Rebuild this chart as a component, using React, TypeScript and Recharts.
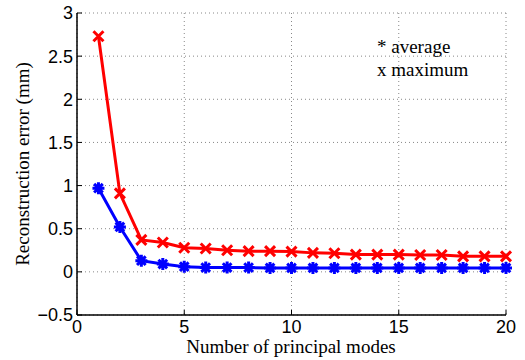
import { LineChart, Line, XAxis, YAxis, CartesianGrid } from "recharts";

const MODES = [1, 2, 3, 4, 5, 6, 7, 8, 9, 10, 11, 12, 13, 14, 15, 16, 17, 18, 19, 20];
const AVERAGE_ERROR = [0.97, 0.52, 0.13, 0.09, 0.06, 0.05, 0.05, 0.05, 0.045, 0.045, 0.045, 0.045, 0.045, 0.045, 0.045, 0.045, 0.045, 0.045, 0.045, 0.045];
const MAXIMUM_ERROR = [2.73, 0.91, 0.37, 0.34, 0.28, 0.27, 0.25, 0.24, 0.24, 0.235, 0.22, 0.215, 0.2, 0.2, 0.2, 0.195, 0.195, 0.18, 0.18, 0.18];
const X_TICKS = [0, 5, 10, 15, 20];
const Y_TICKS = [-0.5, 0, 0.5, 1, 1.5, 2, 2.5, 3];

const data = MODES.map((m, i) => ({ mode: m, avg: AVERAGE_ERROR[i], max: MAXIMUM_ERROR[i] }));

const SANS = "Liberation Sans";
const SERIF = "Liberation Serif";

const serifStyle = { fontFamily: SERIF, fontSize: 19 };

const fmt = (v: number) => (v < 0 ? `\u2212${Math.abs(v)}` : `${v}`);

function BottomTick({ x, y, payload }: any) {
  return (
    <g>
      <line x1={x} x2={x} y1={y} y2={y - 5} stroke="#000" strokeWidth={1} />
      <text x={x} y={y + 18} textAnchor="middle" style={{ fontFamily: SANS, fontSize: 18 }} fill="#000">
        {fmt(payload.value)}
      </text>
    </g>
  );
}

function LeftTick({ x, y, payload }: any) {
  return (
    <g>
      <line x1={x} x2={x + 5} y1={y} y2={y} stroke="#000" strokeWidth={1} />
      <text x={x - 4} y={y} dy="0.36em" textAnchor="end" style={{ fontFamily: SANS, fontSize: 18 }} fill="#000">
        {fmt(payload.value)}
      </text>
    </g>
  );
}

const TopTick = ({ x, y }: any) => <line x1={x} x2={x} y1={y} y2={y + 5} stroke="#000" strokeWidth={1} />;
const RightTick = ({ x, y }: any) => <line x1={x} x2={x - 5} y1={y} y2={y} stroke="#000" strokeWidth={1} />;

function Cross({ cx, cy, index }: any) {
  const s = 5;
  return (
    <path
      key={index}
      d={`M${cx - s},${cy - s}L${cx + s},${cy + s}M${cx - s},${cy + s}L${cx + s},${cy - s}`}
      stroke="#ff0000"
      strokeWidth={3}
    />
  );
}

function Star({ cx, cy, index }: any) {
  const s = 6;
  const d = s * 0.72;
  return (
    <path
      key={index}
      d={`M${cx - s},${cy}L${cx + s},${cy}M${cx},${cy - s}L${cx},${cy + s}M${cx - d},${cy - d}L${cx + d},${cy + d}M${cx - d},${cy + d}L${cx + d},${cy - d}`}
      stroke="#0000ff"
      strokeWidth={3}
    />
  );
}

export default function App() {
  return (
    <div style={{ position: "absolute", left: 0, top: 0, width: 525, height: 360, background: "#fff" }}>
      <LineChart width={525} height={360} data={data} margin={{ top: 13, right: 19, left: 0, bottom: 0 }}>
        <CartesianGrid stroke="#888" strokeDasharray="1 3" strokeWidth={1} />
        <XAxis
          dataKey="mode"
          type="number"
          domain={[0, 20]}
          ticks={X_TICKS}
          height={45}
          tickSize={0}
          tickMargin={0}
          tickLine={false}
          axisLine={{ stroke: "#000", strokeWidth: 1.5 }}
          tick={<BottomTick />}
          interval={0}
        />
        <XAxis
          xAxisId="top"
          orientation="top"
          dataKey="mode"
          type="number"
          domain={[0, 20]}
          ticks={X_TICKS}
          height={0}
          tickSize={0}
          tickMargin={0}
          tickLine={false}
          axisLine={{ stroke: "#000", strokeWidth: 1.5 }}
          tick={<TopTick />}
          interval={0}
        />
        <YAxis
          type="number"
          domain={[-0.5, 3]}
          ticks={Y_TICKS}
          width={77}
          tickSize={0}
          tickMargin={0}
          tickLine={false}
          axisLine={{ stroke: "#000", strokeWidth: 1.5 }}
          tick={<LeftTick />}
          interval={0}
        />
        <YAxis
          yAxisId="right"
          orientation="right"
          type="number"
          domain={[-0.5, 3]}
          ticks={Y_TICKS}
          width={0}
          tickSize={0}
          tickMargin={0}
          tickLine={false}
          axisLine={{ stroke: "#000", strokeWidth: 1.5 }}
          tick={<RightTick />}
          interval={0}
        />
        <Line dataKey="max" stroke="#ff0000" strokeWidth={3} dot={Cross} isAnimationActive={false} />
        <Line dataKey="avg" stroke="#0000ff" strokeWidth={3} dot={Star} isAnimationActive={false} />
      </LineChart>
      <svg width={525} height={360} style={{ position: "absolute", left: 0, top: 0, pointerEvents: "none" }}>
        <text x={291} y={353} textAnchor="middle" style={serifStyle} fill="#000">
          Number of principal modes
        </text>
        <text x={29} y={164} textAnchor="middle" transform="rotate(-90 29 164)" style={serifStyle} fill="#000">
          Reconstruction error (mm)
        </text>
        <text x={377} y={53} style={serifStyle} fill="#000">
          * average
        </text>
        <text x={377} y={76} style={serifStyle} fill="#000">
          x maximum
        </text>
      </svg>
    </div>
  );
}
